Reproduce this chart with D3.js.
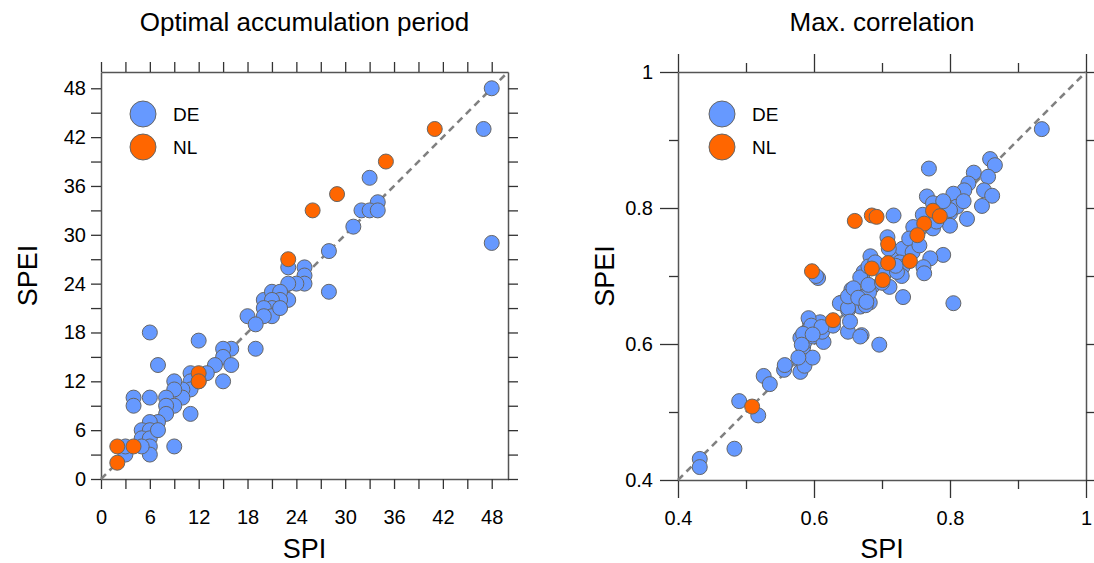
<!DOCTYPE html>
<html>
<head>
<meta charset="utf-8">
<script src="https://cdn.jsdelivr.net/npm/d3@7"></script>
<style>
  body { margin: 0; background: #fff; }
  text { font-family: "Liberation Sans", Arial, sans-serif; fill: #000; }
</style>
</head>
<body>
<div id="chart"></div>
<script>
// left panel: optimal accumulation period (months), [SPI, SPEI]
var periodDE = [
  [48,48],[47,43],[48,29],[33,37],[34,34],[32,33],[33,33],[34,33],[31,31],[28,28],
  [28,23],[25,26],[25,25],[25,24],[23,26],[24,24],[23,24],[23,22],[20,22],[21,23],
  [22,23],[22,22],[21,22],[21,21],[20,21],[21,20],[20,20],[18,20],[19,19],[19,16],
  [16,16],[15,16],[15,15],[16,14],[14,14],[13,13],[11,13],[11,12],[11,11],[10,11],
  [10,10],[9,12],[9,11],[8,10],[9,9],[8,9],[8,8],[11,8],[15,12],[12,17],
  [6,18],[7,14],[4,10],[4,9],[6,10],[7,7],[6,7],[5,6],[6,6],[5,5],
  [6,5],[6,4],[6,3],[7,6],[9,4],[3,3],[3,4],[5,4],[12,12],[22,21]
];
var periodNL = [[41,43],[35,39],[29,35],[26,33],[23,27],[12,13],[12,12],[4,4],[2,4],[2,2]];

// right panel: maximum correlation, [SPI, SPEI]
var corrDE = [
  [0.935,0.916],[0.769,0.858],[0.859,0.872],[0.866,0.863],[0.835,0.852],[0.856,0.846],
  [0.827,0.836],[0.821,0.826],[0.805,0.821],[0.850,0.826],[0.862,0.818],[0.847,0.803],
  [0.825,0.784],[0.766,0.817],[0.775,0.807],[0.788,0.800],[0.800,0.792],[0.810,0.802],
  [0.791,0.788],[0.800,0.774],[0.717,0.789],[0.790,0.731],[0.771,0.726],[0.761,0.713],
  [0.746,0.772],[0.775,0.770],[0.800,0.797],[0.708,0.757],[0.720,0.730],[0.730,0.740],
  [0.750,0.750],[0.740,0.755],[0.683,0.729],[0.726,0.720],[0.730,0.713],[0.673,0.706],
  [0.702,0.701],[0.805,0.660],[0.696,0.599],[0.670,0.613],[0.731,0.669],[0.762,0.704],
  [0.682,0.661],[0.685,0.684],[0.711,0.684],[0.729,0.700],[0.722,0.706],[0.668,0.655],
  [0.432,0.431],[0.432,0.419],[0.483,0.446],[0.490,0.516],[0.518,0.495],[0.526,0.553],
  [0.535,0.541],[0.556,0.562],[0.579,0.576],[0.580,0.559],[0.586,0.568],[0.598,0.580],
  [0.584,0.596],[0.586,0.603],[0.580,0.609],[0.594,0.632],[0.609,0.632],[0.589,0.618],
  [0.599,0.611],[0.614,0.603],[0.612,0.618],[0.628,0.627],[0.650,0.650],[0.650,0.618],
  [0.668,0.611],[0.641,0.661],[0.655,0.680],[0.668,0.698],[0.664,0.671],[0.676,0.657],
  [0.681,0.676],[0.606,0.697],[0.592,0.638],[0.596,0.627],[0.611,0.625],[0.584,0.615],
  [0.598,0.614],[0.582,0.599],[0.577,0.580],[0.557,0.569],[0.638,0.660],[0.650,0.653],
  [0.650,0.670],[0.658,0.682],[0.665,0.668],[0.680,0.714],[0.680,0.687],[0.677,0.662],
  [0.653,0.633],[0.603,0.700],[0.690,0.720],[0.710,0.740],[0.760,0.790],[0.780,0.780],
  [0.700,0.690],[0.720,0.715],[0.745,0.735],[0.755,0.745],[0.790,0.810],[0.820,0.810]
];
var corrNL = [
  [0.660,0.781],[0.685,0.789],[0.692,0.787],[0.597,0.707],[0.628,0.635],[0.509,0.508],
  [0.775,0.796],[0.785,0.788],[0.762,0.777],[0.752,0.760],[0.709,0.747],[0.709,0.719],
  [0.741,0.722],[0.685,0.711],[0.701,0.694]
];

var periodTicks = [0,3,6,9,12,15,18,21,24,27,30,33,36,39,42,45,48];
var periodLabels = [0,6,12,18,24,30,36,42,48];
var corrTicks = [0.4,0.5,0.6,0.7,0.8,0.9,1.0];
var corrLabels = [0.4,0.6,0.8,1.0];

var colDE = "#6699ff", colNL = "#ff6600";

var svg = d3.select("#chart").append("svg")
  .attr("width", 1094).attr("height", 563);

function panel(opt) {
  var x = d3.scaleLinear().domain(opt.domain).range([opt.left, opt.left + opt.size]);
  var y = d3.scaleLinear().domain(opt.domain).range([opt.top + opt.size, opt.top]);
  var g = svg.append("g");

  function isLabel(v) {
    return opt.labels.some(function(l) { return Math.abs(l - v) < 1e-6; });
  }
  function tickLen(v) { return isLabel(v) ? opt.major : opt.minor; }

  var fmt = function(v) { return isLabel(v) ? opt.format(v) : ""; };

  var axes = [
    { ax: d3.axisBottom(x), tr: "translate(0," + (opt.top + opt.size) + ")", lab: true },
    { ax: d3.axisLeft(y), tr: "translate(" + opt.left + ",0)", lab: true },
    { ax: d3.axisTop(x), tr: "translate(0," + opt.top + ")", lab: false },
    { ax: d3.axisRight(y), tr: "translate(" + (opt.left + opt.size) + ",0)", lab: false }
  ];
  axes.forEach(function(a, k) {
    a.ax.tickValues(opt.ticks).tickSizeOuter(0).tickSizeInner(0)
      .tickFormat(a.lab ? fmt : function() { return ""; });
    var ag = g.append("g").attr("transform", a.tr).call(a.ax);
    ag.select(".domain").attr("stroke", "#555").attr("stroke-width", 1.5);
    ag.selectAll(".tick line").each(function(d) {
      var l = d3.select(this), len = tickLen(d);
      if (k === 0) l.attr("y2", len);
      else if (k === 1) l.attr("x2", -len);
      else if (k === 2) l.attr("y2", -len);
      else l.attr("x2", len);
    }).attr("stroke", "#333").attr("stroke-width", 1.3);
    ag.selectAll(".tick text")
      .style("font-family", "Liberation Sans, Arial, sans-serif")
      .style("font-size", "20px").attr("fill", "#000");
    if (k === 0) ag.selectAll(".tick text").attr("y", 31);
    if (k === 1) ag.selectAll(".tick text").attr("x", -opt.labGap);
  });

  // 1:1 line
  g.append("line")
    .attr("x1", x(opt.domain[0])).attr("y1", y(opt.domain[0]))
    .attr("x2", x(opt.domain[1])).attr("y2", y(opt.domain[1]))
    .attr("stroke", "#808080").attr("stroke-width", 2.6)
    .attr("stroke-dasharray", "7,5");

  [[opt.de, colDE], [opt.nl, colNL]].forEach(function(s) {
    g.append("g").selectAll("circle").data(s[0]).enter().append("circle")
      .attr("cx", function(d) { return x(d[0]); })
      .attr("cy", function(d) { return y(d[1]); })
      .attr("r", 7.5)
      .attr("fill", s[1]).attr("stroke", "#666").attr("stroke-width", 1);
  });

  // legend
  [["DE", colDE], ["NL", colNL]].forEach(function(s, i) {
    g.append("circle").attr("cx", opt.left + opt.legX).attr("cy", 114 + i * 33)
      .attr("r", 13).attr("fill", s[1]).attr("stroke", "#666").attr("stroke-width", 1);
    g.append("text").attr("x", opt.left + opt.legX + 30).attr("y", 114 + i * 33 + 7)
      .style("font-size", "19px").text(s[0]);
  });

  g.append("text").attr("x", opt.left + opt.size / 2).attr("y", 31)
    .attr("text-anchor", "middle").style("font-size", "26px").text(opt.title);
  g.append("text").attr("x", opt.left + opt.size / 2).attr("y", 558)
    .attr("text-anchor", "middle").style("font-size", "27px").text("SPI");
  g.append("text")
    .attr("transform", "translate(" + opt.yLabX + "," + (opt.top + opt.size / 2) + ") rotate(-90)")
    .attr("text-anchor", "middle").style("font-size", "27px").text("SPEI");
}

panel({
  left: 101, top: 72, size: 407, domain: [0, 50],
  ticks: periodTicks, labels: periodLabels, major: 10, minor: 10, labGap: 15,
  format: function(v) { return String(v); },
  de: periodDE, nl: periodNL, legX: 42,
  title: "Optimal accumulation period", yLabX: 37
});

panel({
  left: 678, top: 72, size: 408, domain: [0.4, 1.0],
  ticks: corrTicks, labels: corrLabels, major: 18, minor: 9, labGap: 25,
  format: function(v) { return v === 1 ? "1" : d3.format(".1f")(v); },
  de: corrDE, nl: corrNL, legX: 44,
  title: "Max. correlation", yLabX: 614
});
</script>
</body>
</html>
